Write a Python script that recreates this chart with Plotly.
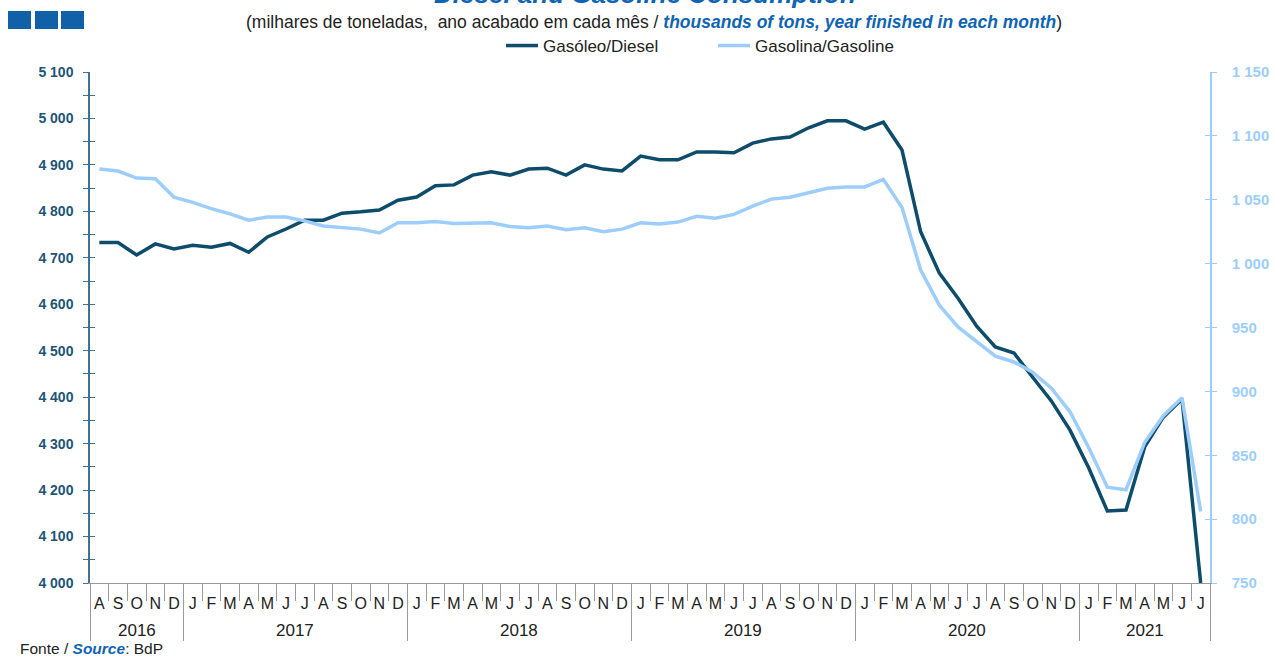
import plotly.graph_objects as go

# Monthly rolling-year consumption, Aug 2016 .. Jul 2021 (thousand tons)
months = ["A", "S", "O", "N", "D"] + ["J", "F", "M", "A", "M", "J", "J", "A", "S", "O", "N", "D"] * 4 \
    + ["J", "F", "M", "A", "M", "J", "J"]
years = ["2016", "2017", "2018", "2019", "2020", "2021"]
year_months = [5, 12, 12, 12, 12, 7]

diesel = [4733, 4733, 4706, 4730, 4719, 4727, 4723, 4731, 4712, 4745,
          4762, 4781, 4781, 4796, 4799, 4803, 4824, 4831, 4855, 4857,
          4878, 4885, 4878, 4891, 4893, 4878, 4900, 4891, 4887, 4919,
          4911, 4911, 4928, 4928, 4926, 4947, 4956, 4960, 4980, 4995,
          4995, 4977, 4992, 4932, 4756, 4667, 4613, 4553, 4508, 4495,
          4443, 4392, 4329, 4248, 4155, 4157, 4293, 4357, 4396, 4000]

gasoline = [1074, 1072.5, 1067, 1066.5, 1052, 1048, 1043, 1039, 1034, 1036.5,
            1036.5, 1033.5, 1029.5, 1028, 1027, 1024, 1032, 1032, 1033, 1031.5,
            1031.5, 1032, 1029, 1028, 1029.5, 1026.5, 1028, 1025, 1027, 1032,
            1031, 1032.5, 1037, 1035.5, 1038.5, 1045, 1050.5, 1052, 1055.5, 1059,
            1060, 1060, 1066, 1044, 995, 967.5, 950.5, 939, 927.5, 923,
            915, 902.5, 884, 856, 825, 823, 860, 881, 895, 806]

left_ticks = list(range(4000, 5101, 100))
right_ticks = list(range(750, 1151, 50))

DARK = "#0E4C6B"
LIGHT = "#9DCEFB"
LEFT_TXT = "#1E5577"
TITLE_BLUE = "#0F64B4"
FONT = "Liberation Sans, Arial, sans-serif"


def space_thousands(v):
    return f"{v:,}".replace(",", " ")


x = list(range(len(months)))
n = len(months)

fig = go.Figure()
fig.add_trace(go.Scatter(x=x, y=diesel, name="Gasóleo/Diesel", mode="lines",
                         line=dict(color=DARK, width=3.5), yaxis="y"))
fig.add_trace(go.Scatter(x=x, y=gasoline, name="Gasolina/Gasoline", mode="lines",
                         line=dict(color=LIGHT, width=3.5), yaxis="y2"))

# boundaries between months and between years
month_edges = [i - 0.5 for i in range(n + 1)]
year_edges = [-0.5]
for k in year_months:
    year_edges.append(year_edges[-1] + k)
year_centers = [(year_edges[i] + year_edges[i + 1]) / 2 for i in range(len(years))]

xr = [-0.5, n - 0.5]
fig.update_layout(
    width=1275, height=658,
    margin=dict(l=90, r=65, t=72, b=75, autoexpand=False),
    paper_bgcolor="white", plot_bgcolor="white",
    font=dict(family=FONT, size=15, color="#222"),
    showlegend=True,
    legend=dict(orientation="h", x=(501 - 90) / 1120, xanchor="left",
                y=(583 - 46) / 511, yanchor="middle",
                entrywidth=165, entrywidthmode="pixels",
                font=dict(size=17, color="#222"), itemwidth=32,
                bgcolor="rgba(0,0,0,0)"),
    xaxis=dict(range=xr, tickvals=x, ticktext=months, ticks="outside",
               ticklen=6, tickcolor="rgba(0,0,0,0)", showline=True,
               linecolor="#9A9A9A", linewidth=1, showgrid=False, zeroline=False,
               tickfont=dict(size=16, color="#222"), automargin=False),
    xaxis2=dict(range=xr, overlaying="x", anchor="y", side="bottom",
                tickvals=month_edges, ticks="outside", ticklen=17,
                tickcolor="#9A9A9A", showticklabels=False, showline=False,
                showgrid=False, zeroline=False, automargin=False),
    xaxis3=dict(range=xr, overlaying="x", anchor="y", side="bottom",
                tickvals=year_edges, ticks="outside", ticklen=57,
                tickcolor="#9A9A9A", showticklabels=False, showline=False,
                showgrid=False, zeroline=False, automargin=False),
    yaxis=dict(range=[4000, 5100], tickvals=left_ticks,
               ticktext=[space_thousands(v) for v in left_ticks],
               ticks="outside", ticklen=5, tickcolor="#3F7293",
               minor=dict(dtick=50, tick0=4000, ticks="outside", ticklen=5,
                          tickcolor="#3F7293"),
               showline=True, linecolor="#3F7293", linewidth=1.5,
               showgrid=False, zeroline=False, ticklabelstandoff=7,
               automargin=False,
               tickfont=dict(size=14, color=LEFT_TXT, family=FONT, weight="bold")),
    yaxis3=dict(range=[4000, 5100], overlaying="y", side="left", anchor="x",
                tickvals=[4000 + 50 * i for i in range(23)], ticks="inside",
                ticklen=5, tickcolor="#3F7293", showticklabels=False,
                showline=False, showgrid=False, zeroline=False, automargin=False),
    yaxis2=dict(range=[750, 1150], overlaying="y", side="right", anchor="x",
                tickvals=right_ticks,
                ticktext=[space_thousands(v) for v in right_ticks],
                ticks="outside", ticklen=5, tickcolor=LIGHT,
                showline=True, linecolor=LIGHT, linewidth=1.5,
                showgrid=False, zeroline=False, ticklabelstandoff=12,
                automargin=False,
                tickfont=dict(size=15, color=LIGHT, family=FONT, weight="bold")),
    yaxis4=dict(range=[750, 1150], overlaying="y", side="right", anchor="x",
                tickvals=right_ticks, ticks="inside", ticklen=5,
                tickcolor=LIGHT, showticklabels=False, showline=False,
                showgrid=False, zeroline=False, automargin=False),
)

# invisible carriers so the overlay axes get drawn
fig.add_trace(go.Scatter(x=[None], y=[None], xaxis="x2", yaxis="y3",
                         showlegend=False, hoverinfo="skip"))
fig.add_trace(go.Scatter(x=[None], y=[None], xaxis="x3", yaxis="y4",
                         showlegend=False, hoverinfo="skip"))


def py(px):
    """paper y from a pixel row"""
    return (583 - px) / 511


def px_x(px):
    return (px - 90) / 1120


annotations = []
for yr, xc in zip(years, year_centers):
    annotations.append(dict(x=xc, y=py(630), xref="x", yref="paper", text=yr,
                            showarrow=False, yanchor="middle",
                            font=dict(size=17, color="#222")))

annotations.append(dict(
    x=px_x(645), y=py(-6), xref="paper", yref="paper", showarrow=False,
    yanchor="middle", xanchor="center",
    text="<b><i>Diesel and Gasoline Consumption</i></b>",
    font=dict(size=26, color=TITLE_BLUE)))
annotations.append(dict(
    x=px_x(654), y=py(22), xref="paper", yref="paper", showarrow=False,
    yanchor="middle", xanchor="center",
    text="(milhares de toneladas,  ano acabado em cada mês / "
         f"<span style='color:{TITLE_BLUE}'><b><i>thousands of tons, year finished in each month</i></b></span>)",
    font=dict(size=17.5, color="#222")))
annotations.append(dict(
    x=px_x(18), y=py(648), xref="paper", yref="paper", showarrow=False,
    yanchor="middle", xanchor="left",
    text=f"Fonte / <span style='color:{TITLE_BLUE}'><b><i>Source</i></b></span>: BdP",
    font=dict(size=15.5, color="#222")))
fig.update_layout(annotations=annotations)

# logo squares in the top-left corner
for x0 in (8, 35, 61):
    fig.add_shape(type="rect", xref="paper", yref="paper",
                  x0=px_x(x0), x1=px_x(x0 + 23), y0=py(29), y1=py(11),
                  fillcolor="#1061A8", line=dict(width=0))

fig.write_html("out.html")
